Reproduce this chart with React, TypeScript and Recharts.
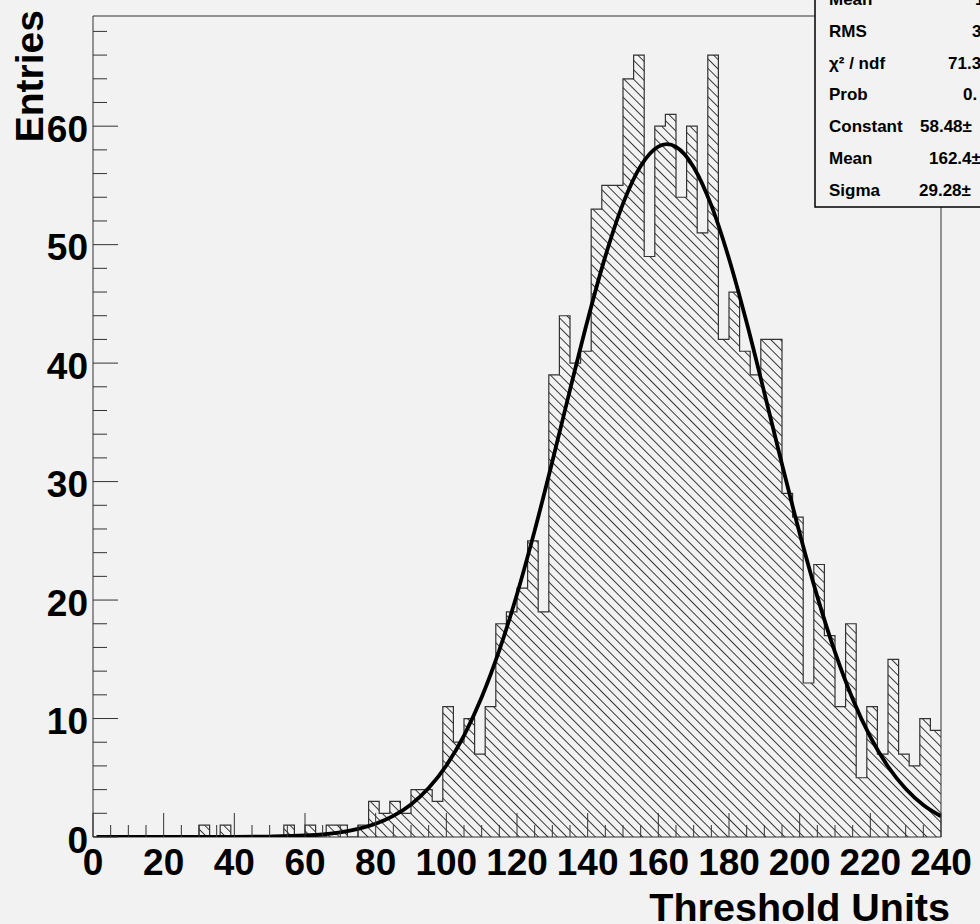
import React from 'react';
import { ComposedChart, Area, Line, XAxis, YAxis, ReferenceArea } from 'recharts';

// Threshold scan histogram: 80 bins of 3 units on [0, 240]
const BIN_WIDTH = 3;
const counts = [
  0, 0, 0, 0, 0, 0, 0, 0, 0, 0,
  1, 0, 1, 0, 0, 0, 0, 0, 1, 0,
  1, 0, 1, 1, 0, 1, 3, 2, 3, 2,
  4, 4, 3, 11, 8, 10, 7, 11, 18, 19,
  21, 25, 19, 39, 44, 40, 41, 53, 55, 55,
  64, 66, 49, 60, 61, 54, 60, 51, 66, 42,
  46, 41, 39, 42, 42, 29, 27, 13, 23, 17,
  11, 18, 5, 11, 7, 15, 7, 6, 10, 9,
];

// gaussian fit curve, sampled along x
const fitX = [
  1, 20, 40, 50, 60, 65, 70, 75, 80, 85, 90, 95, 100, 105, 110, 115, 120, 125, 130, 135,
  140, 145, 150, 155, 160, 162.4, 165, 170, 175, 180, 185, 190, 195, 200, 205, 210, 215,
  220, 225, 230, 235, 240,
];
const fitY = [
  0, 0, 0.01, 0.04, 0.13, 0.23, 0.4, 0.68, 1.12, 1.78, 2.75, 4.13, 6.04, 8.56, 11.79, 15.77,
  20.49, 25.86, 31.7, 37.74, 43.64, 49.01, 53.46, 56.64, 58.28, 58.48, 58.25, 56.54, 53.31,
  48.81, 43.42, 37.5, 31.46, 25.64, 20.29, 15.6, 11.65, 8.45, 5.95, 4.07, 2.7, 1.75,
];

const xLabels = [0, 20, 40, 60, 80, 100, 120, 140, 160, 180, 200, 220, 240];
const yLabels = [0, 10, 20, 30, 40, 50, 60];
const X_MAX = 240;
const Y_MAX = 69.3;

// stats box text
const statLabels = ['Mean', 'RMS', 'χ² / ndf', 'Prob', 'Constant', 'Mean', 'Sigma'];
const statValues = ['1', '3', '71.3', '0.', '58.48±', '162.4±', '29.28±'];
const statValueX = [975, 972, 948, 963, 920, 929, 919];

const W = 980;
const H = 924;
const BG = '#f2f2f2';
const INK = '#333';
const FONT = '"Liberation Sans", Arial, Helvetica, sans-serif';

const histData = counts.map((c, i) => ({ x: i * BIN_WIDTH, count: c }));
histData.push({ x: X_MAX, count: counts[counts.length - 1] });
const fitData = fitX.map((x, i) => ({ x, y: fitY[i] }));

const xTicks: number[] = [];
for (let v = 0; v <= X_MAX; v += 5) xTicks.push(v);
const yTicks: number[] = [];
for (let v = 0; v <= 68; v += 2) yTicks.push(v);

const XTick = ({ x, y, payload }: any) => {
  const v = payload.value;
  const major = xLabels.includes(v);
  return (
    <g>
      <line x1={x} x2={x} y1={y} y2={y - (major ? 24 : 12)} stroke={INK} strokeWidth={1} />
      {major && (
        <text x={x} y={y + 38} textAnchor="middle" fontFamily={FONT} fontWeight="bold" fontSize={37} fill="#000">
          {v}
        </text>
      )}
    </g>
  );
};

const YTick = ({ x, y, payload }: any) => {
  const v = payload.value;
  const major = yLabels.includes(v);
  return (
    <g>
      <line x1={x} x2={x + (major ? 25 : 14)} y1={y} y2={y} stroke={INK} strokeWidth={1} />
      {major && (
        <text x={x - 5} y={y + 15.5} textAnchor="end" fontFamily={FONT} fontWeight="bold" fontSize={37} fill="#000">
          {v}
        </text>
      )}
    </g>
  );
};

export default function App() {
  return (
    <div style={{ position: 'fixed', left: 0, top: 0, width: W, height: H, background: BG, overflow: 'hidden' }}>
      <ComposedChart width={W} height={H} margin={{ top: 16, right: 39, bottom: 0, left: 0 }}>
        <defs>
          <pattern id="hatch" width={6.7} height={6.7} patternUnits="userSpaceOnUse" patternTransform="rotate(45)">
            <line x1={0} y1={3.35} x2={6.7} y2={3.35} stroke={INK} strokeWidth={1} />
          </pattern>
        </defs>
        <XAxis
          type="number"
          dataKey="x"
          domain={[0, X_MAX]}
          ticks={xTicks}
          interval={0}
          allowDataOverflow
          height={87}
          tickSize={0}
          tickMargin={0}
          tickLine={false}
          axisLine={false}
          tick={XTick}
        />
        <YAxis
          type="number"
          domain={[0, Y_MAX]}
          ticks={yTicks}
          interval={0}
          allowDataOverflow
          width={93}
          tickSize={0}
          tickMargin={0}
          tickLine={false}
          axisLine={false}
          tick={YTick}
        />
        <Area
          data={histData}
          dataKey="count"
          type="stepAfter"
          fill="url(#hatch)"
          fillOpacity={1}
          stroke={INK}
          strokeWidth={1.2}
          isAnimationActive={false}
        />
        <Line
          data={fitData}
          dataKey="y"
          type="monotone"
          stroke="#000"
          strokeWidth={3.8}
          dot={false}
          activeDot={false}
          isAnimationActive={false}
        />
        <ReferenceArea x1={0} x2={X_MAX} y1={0} y2={Y_MAX} fill="none" stroke={INK} strokeWidth={1} />
      </ComposedChart>

      <svg width={W} height={H} style={{ position: 'absolute', left: 0, top: 0, pointerEvents: 'none' }}>
        <text transform="translate(43,10) rotate(-90)" textAnchor="end" fontFamily={FONT} fontWeight="bold" fontSize={39} fill="#000">
          Entries
        </text>
        <text x={950} y={921} textAnchor="end" fontFamily={FONT} fontWeight="bold" fontSize={39.5} fill="#000">
          Threshold Units
        </text>
        <rect x={815} y={-5} width={200} height={212} fill={BG} stroke="#000" strokeWidth={1.5} />
        {statLabels.map((label, i) => (
          <g key={i}>
            <text x={829} y={-1 + i * 31.8 + 6} fontFamily={FONT} fontWeight="bold" fontSize={17} fill="#000">
              {label}
            </text>
            <text x={statValueX[i]} y={-1 + i * 31.8 + 6} fontFamily={FONT} fontWeight="bold" fontSize={17} fill="#000">
              {statValues[i]}
            </text>
          </g>
        ))}
      </svg>
    </div>
  );
}
